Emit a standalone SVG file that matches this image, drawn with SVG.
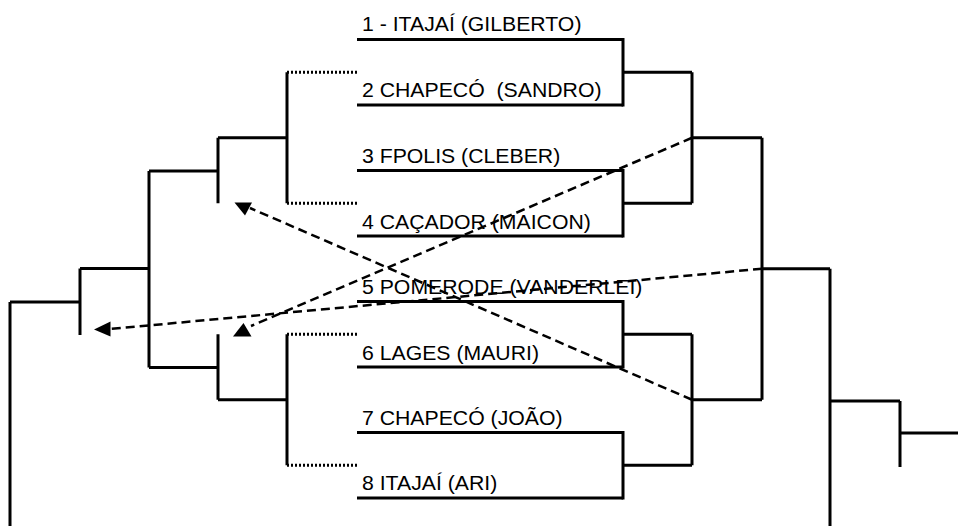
<svg xmlns="http://www.w3.org/2000/svg" width="958" height="526" viewBox="0 0 958 526">
<style>
.s{fill:none;stroke:#000;stroke-width:3;stroke-linecap:butt}
.d{fill:none;stroke:#000;stroke-width:3;stroke-dasharray:2 2}
.a{fill:none;stroke:#000;stroke-width:2.5;stroke-dasharray:9 5}
.h{fill:#000;stroke:none}
text{font-family:"Liberation Sans",Arial,sans-serif;font-size:19.5px;fill:#000;white-space:pre}
</style>
<rect width="958" height="526" fill="#fff"/>
<g id="team1"><text transform="translate(362 31) scale(1.09 1)">1 - ITAJAÍ (GILBERTO)</text><path class="s" d="M357 39.5H623"/></g>
<g id="team2"><text transform="translate(362 97) scale(1.09 1)" xml:space="preserve">2 CHAPECÓ  (SANDRO)</text><path class="s" d="M357 105H623"/></g>
<g id="team3"><text transform="translate(362 163) scale(1.09 1)">3 FPOLIS (CLEBER)</text><path class="s" d="M357 170.5H623"/></g>
<g id="team4"><text transform="translate(362 228.5) scale(1.09 1)">4 CAÇADOR (MAICON)</text><path class="s" d="M357 236H623"/></g>
<g id="team5"><text transform="translate(362 294) scale(1.09 1)">5 POMERODE (VANDERLEI)</text><path class="s" d="M357 301.5H623"/></g>
<g id="team6"><text transform="translate(362 359.5) scale(1.09 1)">6 LAGES (MAURI)</text><path class="s" d="M357 367H623"/></g>
<g id="team7"><text transform="translate(362 424.5) scale(1.09 1)">7 CHAPECÓ (JOÃO)</text><path class="s" d="M357 432.5H623"/></g>
<g id="team8"><text transform="translate(362 490) scale(1.09 1)">8 ITAJAÍ (ARI)</text><path class="s" d="M357 498H623"/></g>
<g id="right-bracket">
<path class="s" d="M623 38V106.5M623 169V237.5M623 300V368.5M623 431V499.5"/>
<path class="s" d="M623 72.25H692M623 203.25H692M623 334.25H692M623 465.25H692"/>
<path class="s" d="M692 72.25V203.25M692 334.25V465.25M692 137.75H762M692 399.75H762"/>
<path class="s" d="M762 137.75V399.75M762 268.75H830M830 268.75V526"/>
<path class="s" d="M830 401H900M900 401V467M900 433H958"/>
</g>
<g id="left-bracket">
<path class="d" d="M287 72.25H358M287 203.25H358M287 334.25H358M287 465.25H358"/>
<path class="s" d="M287 72.25V203.25M287 334.25V465.25M218 137.75H287M218 399.75H287"/>
<path class="s" d="M218 137.75V203.25M218 334.25V399.75M149 171H218M149 367.5H218"/>
<path class="s" d="M149 171V367.5M80 268.5H149M80 268.5V335M10 302H80M10 302V526"/>
</g>
<g id="connectors">
<path class="a" d="M692 137.75L251 326"/>
<polygon class="h" points="233,336.5 243.5,323 251.5,336.5"/>
<path class="a" d="M692 399.75L250 208"/>
<polygon class="h" points="234.5,202.5 252,202.5 245,215.5"/>
<path class="a" d="M762 268.75L110 329"/>
<polygon class="h" points="94,329.5 110.5,321.5 110.5,336.5"/>
</g>
</svg>
